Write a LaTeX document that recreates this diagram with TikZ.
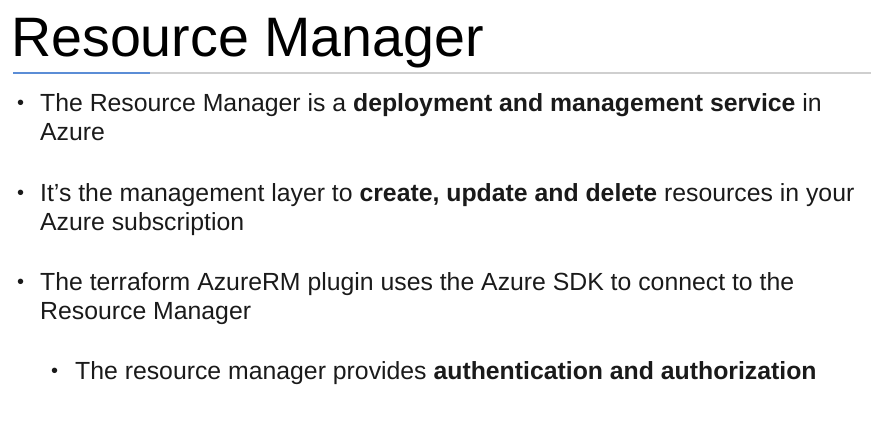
\documentclass[tikz,border=0pt]{standalone}
\usepackage{fontspec}
\setmainfont{Liberation Sans}
\definecolor{ruleblue}{HTML}{5B8DD6}
\definecolor{rulegray}{HTML}{CFCFCF}
\definecolor{bodytext}{HTML}{1A1A1A}
\tikzset{
  titletext/.style={anchor=base west, inner sep=0pt, font=\fontsize{55.6}{60}\selectfont},
  linetext/.style={anchor=base west, inner sep=0pt, text=bodytext, font=\fontsize{24.8}{29}\selectfont},
  dot/.style={anchor=base west, inner sep=0pt, text=bodytext, font=\fontsize{20}{24}\selectfont}
}
\begin{document}
\begin{tikzpicture}[x=1pt,y=-1pt]
   \useasboundingbox (0,0) rectangle (892,443);
   \node[titletext] (title) at (11,57) {Resource Manager};
   \draw[rulegray, line width=1.2pt] (13,73) -- (871,73);
   \draw[ruleblue, line width=1.2pt] (13,73) -- (150,73);

   \node[dot] (b1) at (17,110) {\textbullet};
   \node[linetext] (l1a) at (40,112) {The Resource Manager is a \textbf{deployment and management service} in};
   \node[linetext] (l1b) at (40,141) {Azure};

   \node[dot] (b2) at (17,200) {\textbullet};
   \node[linetext] (l2a) at (40,202) {It’s the management layer to \textbf{create, update and delete} resources in your};
   \node[linetext] (l2b) at (40,231) {Azure subscription};

   \node[dot] (b3) at (17,289) {\textbullet};
   \node[linetext] (l3a) at (40,291) {The terraform AzureRM plugin uses the Azure SDK to connect to the};
   \node[linetext] (l3b) at (40,320) {Resource Manager};

   \node[dot] (b4) at (51,378) {\textbullet};
   \node[linetext] (l4a) at (75,380) {The resource manager provides \textbf{authentication and authorization}};
\end{tikzpicture}
\end{document}
